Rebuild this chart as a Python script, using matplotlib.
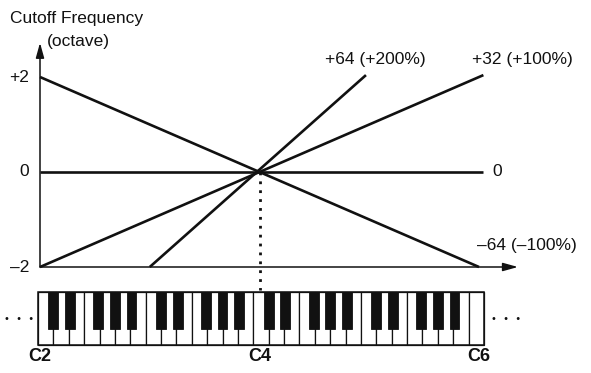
import matplotlib.pyplot as plt
from matplotlib.patches import Rectangle

plt.rcParams['font.family'] = ['Liberation Sans', 'DejaVu Sans']

# key follow curves: x = octaves from C4, y = cutoff shift (octave)
curve_labels = ['+64 (+200%)', '+32 (+100%)', '0', '\u201364 (\u2013100%)']
curve_x = [[-1.0, 0.97], [-2.0, 2.04], [-2.0, 2.04], [-2.0, 2.0]]
curve_y = [[-2.0, 2.04], [-2.0, 2.04], [0.0, 0.0], [2.0, -2.0]]

y_ticks = [2, 0, -2]
y_tick_labels = ['+2', '0', '\u20132']

note_names = ['C2', 'C4', 'C6']
note_pos = [-2, 0, 2]

n_white = 29                           # C2 .. C6
black_in_octave = [1, 2, 4, 5, 6]      # white-key boundaries with a black key
black_shift = [0.0, 0.08, -0.08, 0.0, 0.08]

# px -> data scale (591x373 figure)
sx, sy = 109.75, 47.5
fig = plt.figure(figsize=(5.91, 3.73), dpi=100)
ax = fig.add_axes([0, 0, 1, 1])
ax.set_xlim(-2 - 40 / sx, -2 + 551 / sx)
ax.set_ylim(-2 - 106 / sy, -2 + 267 / sy)
ax.axis('off')

ink = '#111111'

# axes with arrows
ax.annotate('', xy=(-2, 2.72), xytext=(-2, -2.0),
            arrowprops=dict(arrowstyle='-|>,head_length=0.9,head_width=0.25', color=ink, lw=1.1,
                            shrinkA=0, shrinkB=0))
ax.annotate('', xy=(2.355, -2), xytext=(-2.0, -2),
            arrowprops=dict(arrowstyle='-|>,head_length=0.9,head_width=0.25', color=ink, lw=1.1,
                            shrinkA=0, shrinkB=0))

for xs, ys in zip(curve_x, curve_y):
    ax.plot(xs, ys, color=ink, lw=1.9, solid_capstyle='butt')

# dotted line down to the C4 key
ax.plot([0, 0], [0, -2.49], color=ink, lw=2.0, linestyle=(0, (1, 2.2)), dash_capstyle='butt')

fs = 12.5
ax.text(-2.273, 3.24, 'Cutoff Frequency', fontsize=fs, ha='left', va='center', color=ink)
ax.text(-1.654, 2.74, '(octave)', fontsize=fs, ha='center', va='center', color=ink)
for v, t in zip(y_ticks, y_tick_labels):
    ax.text(-2.1, v, t, fontsize=fs, ha='right', va='center', color=ink)

label_pos = [(1.052, 2.36, 'center'), (2.392, 2.36, 'center'), (2.118, 0.0, 'left'), (2.437, -1.54, 'center')]
for (lx, ly, ha), t in zip(label_pos, curve_labels):
    ax.text(lx, ly, t, fontsize=fs, ha=ha, va='center', color=ink)

# keyboard
kx0 = -2 - 2 / sx
kw = (484 - 38) / n_white / sx
ktop = -2 - 25 / sy
kbot = -2 - 78 / sy
bbot = -2 - 62 / sy
for i in range(n_white):
    ax.add_patch(Rectangle((kx0 + i * kw, kbot), kw, ktop - kbot, facecolor='white',
                           edgecolor=ink, lw=0.9))
for octave in range(4):
    for b, s in zip(black_in_octave, black_shift):
        cx = kx0 + (octave * 7 + b + s) * kw
        bw = kw * 0.64
        ax.add_patch(Rectangle((cx - bw / 2, bbot), bw, ktop - bbot, facecolor=ink,
                               edgecolor=ink, lw=0.6))
ax.add_patch(Rectangle((kx0, kbot), n_white * kw, ktop - kbot, facecolor='none',
                       edgecolor=ink, lw=1.1))

# continuation dots on both sides of the keyboard
kmid = (ktop + kbot) / 2
for dx in [-21 / sx, 27 / sx]:
    x_c = (-2 if dx < 0 else 2) + dx
    ax.text(x_c, kmid, '\u2022  \u2022  \u2022', fontsize=7, ha='center', va='center', color=ink,
            family=['DejaVu Sans'])

for p, n in zip(note_pos, note_names):
    ax.text(p, -3.874, n, fontsize=13, fontweight='bold', ha='center', va='center', color=ink)

fig.savefig('out.png', dpi=100)
